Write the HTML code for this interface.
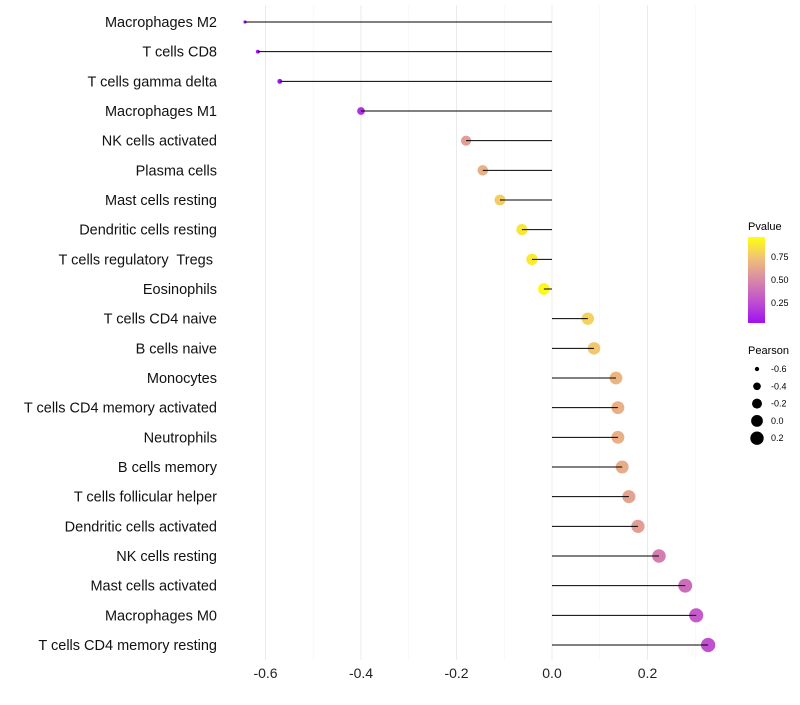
<!DOCTYPE html>
<html><head><meta charset="utf-8"><style>
body{margin:0;background:#fff;font-family:"Liberation Sans",sans-serif}
</style></head><body>
<svg id="chart" width="800" height="700" xmlns="http://www.w3.org/2000/svg">
<defs><linearGradient id="pg" x1="0" y1="1" x2="0" y2="0">
<stop offset="0" stop-color="#a010f0"/><stop offset="0.25" stop-color="#c050d0"/><stop offset="0.5" stop-color="#d888a8"/><stop offset="0.75" stop-color="#f0c078"/><stop offset="1" stop-color="#ffff10"/></linearGradient></defs>
<g id="grid"></g><g id="pts"></g><g id="marks"></g><g id="labels"></g>
<g>
<text x="748" y="230" font-size="11">Pvalue</text>
<rect x="748" y="237" width="17" height="86" fill="url(#pg)"/>
<text x="771" y="260" font-size="9">0.75</text><text x="771" y="283" font-size="9">0.50</text><text x="771" y="306" font-size="9">0.25</text>
</g>
<g id="sizeLegend">
<text x="748" y="354" font-size="11">Pearson</text>
</g>
</svg>
<script>
const cats=["Macrophages M2","T cells CD8","T cells gamma delta","Macrophages M1","NK cells activated","Plasma cells","Mast cells resting","Dendritic cells resting","T cells regulatory  Tregs ","Eosinophils","T cells CD4 naive","B cells naive","Monocytes","T cells CD4 memory activated","Neutrophils","B cells memory","T cells follicular helper","Dendritic cells activated","NK cells resting","Mast cells activated","Macrophages M0","T cells CD4 memory resting"];
const pearson=[-0.643,-0.616,-0.570,-0.400,-0.180,-0.145,-0.109,-0.063,-0.042,-0.017,0.075,0.088,0.134,0.138,0.138,0.147,0.161,0.180,0.224,0.279,0.302,0.327];
const pvals=[0.02,0.02,0.03,0.12,0.6,0.68,0.8,0.9,0.92,0.97,0.82,0.78,0.7,0.68,0.68,0.66,0.62,0.6,0.45,0.38,0.3,0.25];
const xTicks=[-0.6,-0.4,-0.2,0,0.2];
const sizeLegend=[-0.6,-0.4,-0.2,0.0,0.2];
const NS="http://www.w3.org/2000/svg";
const x=v=>552+v*477.5;
const y=i=>22+i*29.667;
const r=v=>Math.sqrt(Math.max(0.5,2.2+50*(v+0.65)));
function col(p){const st=[[0,[160,16,240]],[0.25,[192,80,208]],[0.5,[216,136,168]],[0.75,[240,192,120]],[1,[255,255,16]]];
for(let k=0;k<4;k++){const a=st[k],b=st[k+1];if(p<=b[0]){const t=(p-a[0])/(b[0]-a[0]);return "rgb("+a[1].map((c,j)=>Math.round(c+(b[1][j]-c)*t)).join(",")+")";}}return "rgb(255,255,16)";}
function mk(t,at,parent){const e=document.createElementNS(NS,t);for(const k in at)e.setAttribute(k,at[k]);parent.appendChild(e);return e;}
const grid=document.getElementById('grid'),marks=document.getElementById('marks'),pts=document.getElementById('pts'),labels=document.getElementById('labels');
for(let v=-0.6;v<=0.31;v+=0.1){const maj=Math.abs(Math.round(v*10))%2===0;
const l=mk('line',{x1:x(v),x2:x(v),y1:5,y2:660,stroke:maj?'#ebebeb':'#f4f4f4','stroke-width':maj?1:0.6},grid);

}
xTicks.forEach(v=>{const t=mk('text',{x:x(v),y:678,'font-size':14,'text-anchor':'middle',fill:'#222'},labels);t.textContent=v===0?'0.0':v.toFixed(1);

});
cats.forEach((c,i)=>{const yy=y(i);
const t=mk('text',{x:217,y:yy+5,'font-size':14.5,'text-anchor':'end',fill:'#111',style:'white-space:pre'},labels);t.textContent=c;


const d=mk('circle',{cx:x(pearson[i]),cy:yy,r:r(pearson[i]),fill:col(pvals[i])},pts);


const ln=mk('line',{x1:x(0),x2:x(pearson[i]),y1:yy,y2:yy,stroke:'#000','stroke-width':1},marks);

});
const sl=document.getElementById('sizeLegend');
sizeLegend.forEach((v,k)=>{const yy=369+k*17.3;
const d=mk('circle',{cx:757,cy:yy,r:r(v)},sl);


const t=mk('text',{x:771,y:yy+3,'font-size':9},sl);t.textContent=v.toFixed(1);

});
</script>
</body></html>
